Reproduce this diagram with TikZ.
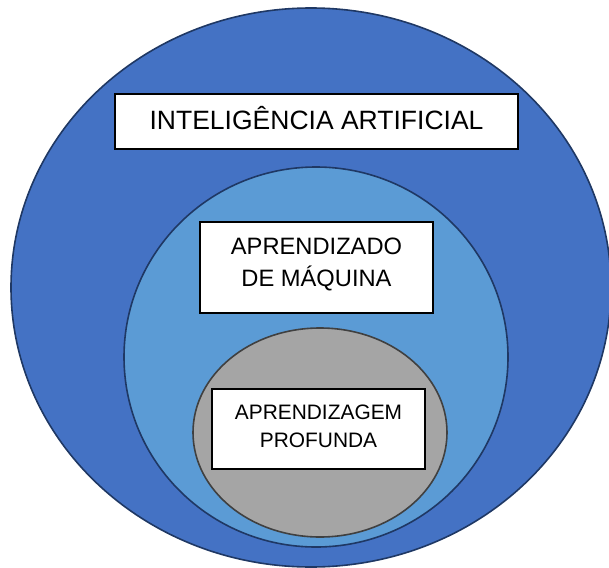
\documentclass[tikz,border=0pt]{standalone}
\usepackage{fontspec}
\setmainfont{Liberation Sans}
\usetikzlibrary{positioning}
\definecolor{aiblue}{HTML}{4472C4}
\definecolor{mlblue}{HTML}{5B9BD5}
\definecolor{dlgray}{HTML}{A5A5A5}
\definecolor{rimblue}{HTML}{1F3864}
\definecolor{rimgray}{HTML}{404040}
\tikzstyle{labelbox}=[rectangle,draw=black,fill=white,line width=1.4pt,inner sep=0pt,align=center]
\tikzstyle{rim} = [line width=1.6pt]

\begin{document}
\begin{tikzpicture}[x=1pt, y=-1pt]

  \useasboundingbox (0,0) rectangle (609,567);

     % the three nested sets
     \foreach \cx/\cy/\rx/\ry/\fillc/\drawc in {311/287.5/300/279.5/aiblue/rimblue, 316/357/192/190/mlblue/rimblue, 320/432.5/127/104.5/dlgray/rimgray}
     	\draw[rim, fill=\fillc, draw=\drawc] (\cx,\cy) ellipse ({\rx pt} and {\ry pt});

     \node[labelbox, minimum width=403pt, minimum height=55pt, text depth=7pt, font=\fontsize{26.5}{32}\selectfont] (ia) at (316.5,121.5) {INTELIGÊNCIA ARTIFICIAL};
     \node[labelbox, minimum width=233pt, minimum height=91pt, text depth=11pt, font=\fontsize{23.7}{32}\selectfont] (am) at (316.5,267.5) {APRENDIZADO\\DE MÁQUINA};
     \node[labelbox, minimum width=213pt, minimum height=80pt, text depth=5pt, font=\fontsize{20.9}{28}\selectfont] (ap) at (318.5,429) {APRENDIZAGEM\\PROFUNDA};

\end{tikzpicture}
\end{document}
